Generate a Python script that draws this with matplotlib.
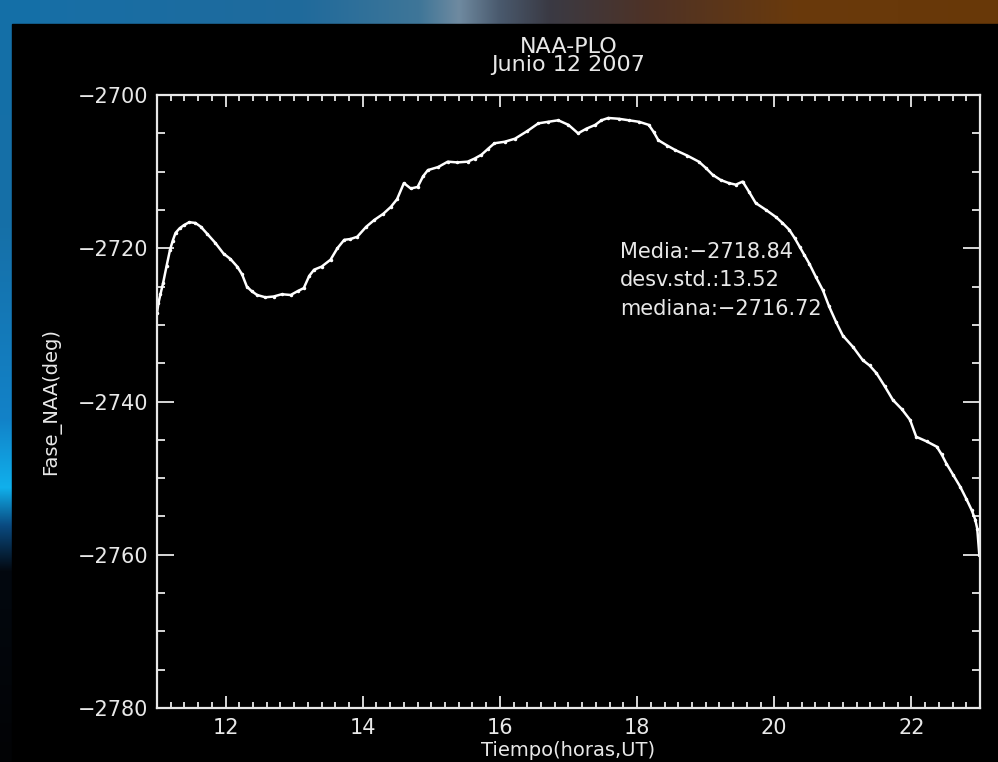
import numpy as np
import matplotlib.pyplot as plt
from matplotlib.colors import to_rgb

# Fase NAA-PLO, 12 junio 2007
tiempo = [11.00, 11.02, 11.05, 11.09, 11.14, 11.19, 11.23, 11.27, 11.33, 11.39,
          11.47, 11.56, 11.64, 11.73, 11.85, 11.97, 12.07, 12.17, 12.24, 12.31,
          12.38, 12.46, 12.58, 12.70, 12.82, 12.95, 13.05, 13.14, 13.22, 13.29,
          13.40, 13.53, 13.63, 13.73, 13.82, 13.92, 14.05, 14.17, 14.30, 14.41,
          14.50, 14.60, 14.70, 14.80, 14.88, 14.95, 15.10, 15.24, 15.38, 15.53,
          15.63, 15.73, 15.83, 15.92, 16.07, 16.22, 16.40, 16.56, 16.70, 16.85,
          17.00, 17.14, 17.26, 17.39, 17.48, 17.58, 17.73, 17.88, 18.03, 18.17,
          18.24, 18.31, 18.44, 18.56, 18.73, 18.90, 19.00, 19.10, 19.22, 19.34,
          19.44, 19.54, 19.63, 19.73, 19.88, 20.02, 20.12, 20.22, 20.30, 20.37,
          20.44, 20.51, 20.61, 20.71, 20.80, 20.90, 21.00, 21.15, 21.29, 21.39,
          21.49, 21.61, 21.73, 21.86, 21.98, 22.07, 22.22, 22.37, 22.44, 22.51,
          22.61, 22.71, 22.80, 22.88, 22.93, 22.96, 22.99]
fase = [-2728.5, -2727.2, -2726.0, -2724.5, -2722.3, -2720.2, -2719.0, -2718.0, -2717.4, -2717.0,
        -2716.6, -2716.7, -2717.2, -2718.1, -2719.3, -2720.7, -2721.4, -2722.4, -2723.4, -2725.0,
        -2725.6, -2726.1, -2726.4, -2726.3, -2726.0, -2726.1, -2725.6, -2725.2, -2723.6, -2722.8,
        -2722.4, -2721.5, -2720.0, -2718.9, -2718.8, -2718.5, -2717.2, -2716.3, -2715.5, -2714.6,
        -2713.6, -2711.5, -2712.2, -2712.0, -2710.6, -2709.8, -2709.4, -2708.7, -2708.8, -2708.7,
        -2708.3, -2707.8, -2707.0, -2706.3, -2706.1, -2705.7, -2704.7, -2703.7, -2703.5, -2703.3,
        -2703.9, -2705.0, -2704.4, -2703.9, -2703.3, -2703.0, -2703.1, -2703.3, -2703.5, -2703.9,
        -2704.8, -2705.9, -2706.6, -2707.2, -2707.9, -2708.7, -2709.5, -2710.4, -2711.1, -2711.5,
        -2711.7, -2711.3, -2712.6, -2714.1, -2715.0, -2715.9, -2716.7, -2717.6, -2718.7, -2719.8,
        -2720.9, -2722.0, -2723.8, -2725.5, -2727.6, -2729.6, -2731.4, -2732.9, -2734.6, -2735.3,
        -2736.3, -2738.0, -2739.8, -2741.0, -2742.4, -2744.6, -2745.2, -2745.9, -2746.9, -2748.1,
        -2749.6, -2751.1, -2752.7, -2754.2, -2755.4, -2756.6, -2760.0]

titulo = ['NAA-PLO', 'Junio 12 2007']
estadisticas = ['Media:-2718.84', 'desv.std.:13.52', 'mediana:-2716.72']
xticks = [12, 14, 16, 18, 20, 22]
yticks = [-2780, -2760, -2740, -2720, -2700]

W, H = 998, 762
fig = plt.figure(figsize=(W / 100, H / 100), dpi=100)

# fondo (imagen azul/naranja detras del grafico)
fondo = np.zeros((H, W, 3))
xs = np.linspace(0, 1, W)
ys = np.linspace(0, 1, H)
c_top = np.array([np.interp(xs, [0, 0.3, 0.42, 0.46, 0.5, 0.55, 0.65, 0.8, 1.0],
                            [to_rgb(c)[k] for c in ['#1670a8', '#1f6a9c', '#3f7698', '#6f8aa0', '#4a5a6e',
                                                    '#3a3a44', '#4e3226', '#6a3a0c', '#683808']])
                  for k in range(3)]).T
c_left = np.array([np.interp(ys, [0, 0.3, 0.55, 0.64, 0.69, 0.75, 1.0],
                             [to_rgb(c)[k] for c in ['#1470a8', '#1670a8', '#1282c8', '#10b0ec',
                                                     '#0a4a80', '#03080f', '#020305']])
                   for k in range(3)]).T
fondo[:] = c_top[None, :, :]
fondo[:, :40] = c_left[:, None, :]
bg = fig.add_axes([0, 0, 1, 1])
bg.imshow(fondo, aspect='auto', extent=[0, 1, 0, 1])
bg.add_patch(plt.Rectangle((12 / W, 0), 1 - 12 / W, 1 - 24 / H, color='black'))
bg.set_xlim(0, 1)
bg.set_ylim(0, 1)
bg.axis('off')

ax = fig.add_axes([157 / W, 54 / H, (980 - 157) / W, (708 - 95) / H])
ax.set_facecolor('black')
ax.plot(tiempo, fase, color='white', lw=1.8, marker='.', ms=3)

ax.set_xlim(11, 23)
ax.set_ylim(-2780, -2700)
ax.set_xticks(xticks)
ax.set_yticks(yticks)
ax.set_xticks(np.arange(11, 23.01, 0.2), minor=True)
ax.set_yticks(np.arange(-2780, -2699, 5), minor=True)
for s in ax.spines.values():
    s.set_color('#e8e8e8')
    s.set_linewidth(1.6)
ax.tick_params(axis='both', which='both', direction='in', colors='#e8e8e8',
               top=True, right=True, width=1.3, labelsize=15)
ax.tick_params(axis='x', which='major', length=8.8, pad=7)
ax.tick_params(axis='x', which='minor', length=4.4)
ax.tick_params(axis='y', which='major', length=12.2, pad=6)
ax.tick_params(axis='y', which='minor', length=6)
ax.set_yticklabels([str(v).replace('-', '\u2212') for v in yticks])

ax.set_xlabel('Tiempo(horas,UT)', color='#e8e8e8', fontsize=14, labelpad=2)
ax.set_ylabel('Fase_NAA(deg)', color='#e8e8e8', fontsize=14, labelpad=12)
ax.set_title('\n'.join(titulo), color='#e8e8e8', fontsize=16, linespacing=0.9, pad=17)

for i, txt in enumerate(estadisticas):
    ax.text(0.5626, 0.744 - i * 0.0465, txt.replace('-', '\u2212'), transform=ax.transAxes,
            color='#e8e8e8', fontsize=15, va='center', ha='left')

fig.savefig('out.png', dpi=100, facecolor='black')
